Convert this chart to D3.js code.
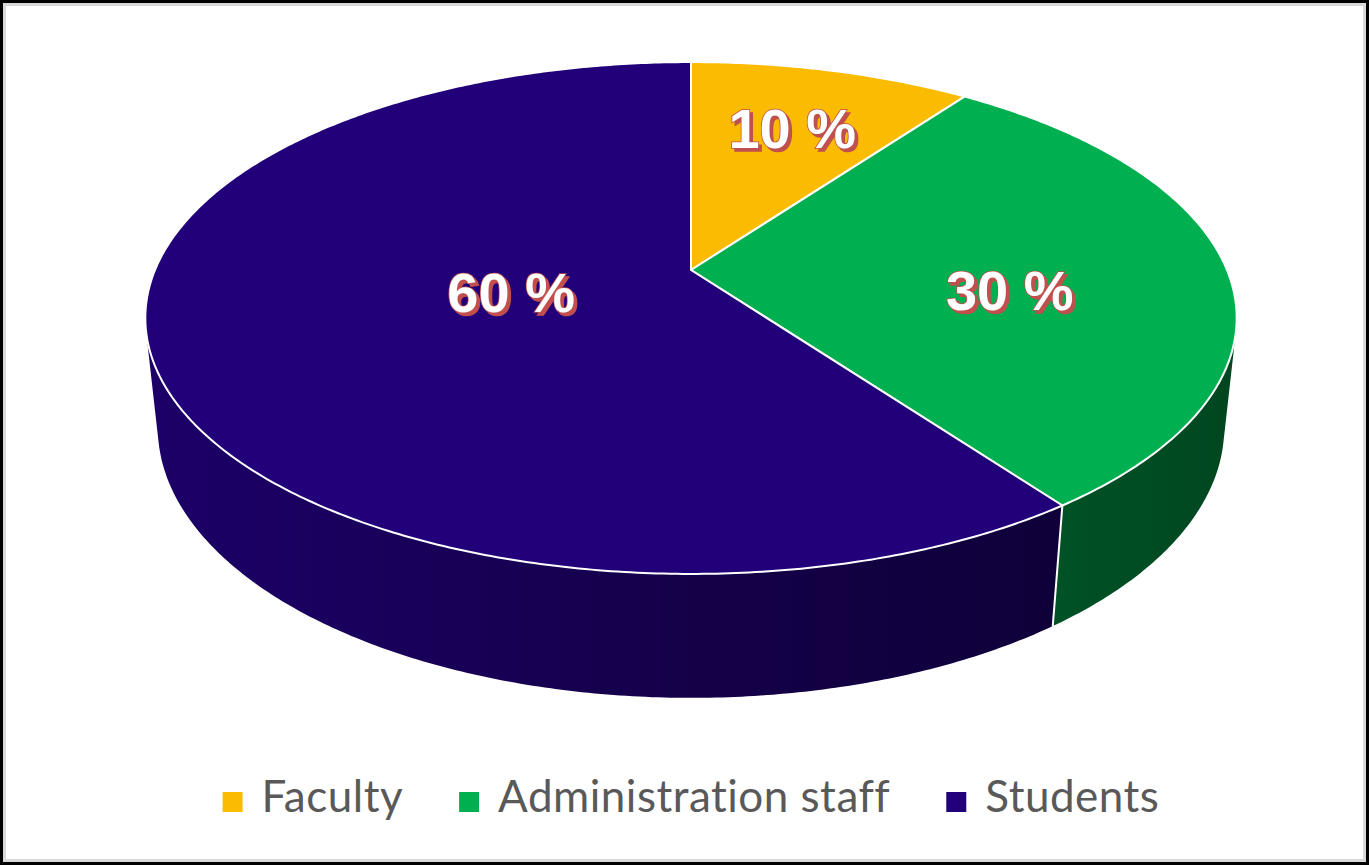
<!DOCTYPE html>
<html>
<head>
	<meta charset="utf-8">
	<title>3D pie</title>
	<style>
		body { margin: 0; background: #fff; }
		svg { display: block; }
	</style>
</head>
<body>
	<svg width="1369" height="865"></svg>
<script src="https://cdn.jsdelivr.net/npm/d3@7"></script>
<script>
	// data
	const categories = ["Faculty", "Administration staff", "Students"]
	const shares = [10, 30, 60]
	const colors = ["#FABB00", "#00AF50", "#21007A"]

	const svg = d3.select("svg")
	const W = 1369, H = 865

	// frame
	svg.append("rect").attr("x", 1.5).attr("y", 1.5).attr("width", W - 3).attr("height", H - 3)
		.attr("fill", "#fff").attr("stroke", "#000").attr("stroke-width", 3)
	svg.append("rect").attr("x", 4.5).attr("y", 4.5).attr("width", W - 9).attr("height", H - 9)
		.attr("fill", "none").attr("stroke", "#d9d9d9").attr("stroke-width", 3)

	// simple perspective camera looking down onto the pie
	const cx = 691, cy = 270, F = 2537.6, D = 4.734
	const sn = 0.4607, cs = 0.8876, thick = 0.232
	function proj(a, r, h) {
		let X = r * Math.sin(a), Z = -r * Math.cos(a), Y = -h * thick
		let vy = Y - D * sn, vz = Z - D * cs
		let depth = -(vy * sn + vz * cs)
		let sy = vy * cs - vz * sn
		return [cx + F * X / depth, cy - F * sy / depth]
	}

	const arcs = d3.pie().sort(null).value(d => d)(shares)
	// side of cylinder faces the camera between these angles
	const lim = Math.acos(-1 / (D * cs))
	const visA = lim, visB = 2 * Math.PI - lim

	function arcPts(a0, a1, r, h) {
		let n = Math.max(2, Math.ceil((a1 - a0) / 0.01))
		return d3.range(n + 1).map(i => proj(a0 + (a1 - a0) * i / n, r, h))
	}

	const defs = svg.append("defs")
	const x0 = proj(visB, 1, 0)[0], x1 = proj(visA, 1, 0)[0]
	arcs.forEach((d, i) => {
		let c = d3.rgb(colors[i])
		let g = defs.append("linearGradient").attr("id", "side" + i)
			.attr("gradientUnits", "userSpaceOnUse")
			.attr("x1", x0).attr("x2", x1).attr("y1", 0).attr("y2", 0)
		;[[0, 0.85], [0.5, 0.6], [1, 0.4]].forEach(s => {
			g.append("stop").attr("offset", s[0])
				.attr("stop-color", d3.rgb(c.r * s[1], c.g * s[1], c.b * s[1]))
		})
	})
	// label shadow
	let flt = defs.append("filter").attr("id", "shadow")
		.attr("x", "-10%").attr("y", "-10%").attr("width", "120%").attr("height", "130%")
	flt.append("feOffset").attr("in", "SourceAlpha").attr("dx", 3).attr("dy", 3).attr("result", "off")
	flt.append("feFlood").attr("flood-color", "#C0504D").attr("result", "col")
	flt.append("feComposite").attr("in", "col").attr("in2", "off").attr("operator", "in").attr("result", "sh")
	let fm = flt.append("feMerge")
	fm.append("feMergeNode").attr("in", "sh")
	fm.append("feMergeNode").attr("in", "SourceGraphic")

	const line = d3.line()
	const pie = svg.append("g")

	// side walls
	arcs.forEach((d, i) => {
		let a0 = Math.max(d.startAngle, visA), a1 = Math.min(d.endAngle, visB)
		if (a1 <= a0) return
		let pts = arcPts(a0, a1, 1, 0).concat(arcPts(a0, a1, 1, 1).reverse())
		pie.append("path").attr("d", line(pts) + "Z")
			.attr("fill", `url(#side${i})`)
	})
	// seams between slices on the visible side
	arcs.forEach(d => {
		let a = d.startAngle
		if (a > visA && a < visB) {
			pie.append("path").attr("d", line([proj(a, 1, 0), proj(a, 1, 1)]))
				.attr("stroke", "#fff").attr("stroke-width", 2)
		}
	})

	// top faces
	arcs.forEach((d, i) => {
		let pts = [proj(0, 0, 0)].concat(arcPts(d.startAngle, d.endAngle, 1, 0))
		pie.append("path").attr("d", line(pts) + "Z")
			.attr("fill", colors[i]).attr("stroke", "#fff").attr("stroke-width", 2)
			.attr("stroke-linejoin", "round")
	})

	// data labels near the (projected) centroid of each sector
	const nudge = [[4, -4], [12, 20], [-5, -4]]
	const lbl = svg.append("g")
		.attr("font-family", "'Liberation Sans', Arial, sans-serif")
		.attr("font-weight", "bold").attr("font-size", 56)
		.attr("text-anchor", "middle")
	arcs.forEach((d, i) => {
		let half = (d.endAngle - d.startAngle) / 2
		let r = 2 * Math.sin(half) / (3 * half)
		let p = proj((d.startAngle + d.endAngle) / 2, r, 0)
		lbl.append("text").attr("x", p[0] + nudge[i][0]).attr("y", p[1] + nudge[i][1]).attr("dy", "0.36em")
			.attr("fill", "#fff").attr("stroke", "#C0504D").attr("stroke-width", 1.6)
			.attr("paint-order", "stroke").attr("filter", "url(#shadow)")
			.text(shares[i] + " %")
	})

	// legend
	const leg = svg.append("g")
	const items = categories.map((c, i) => {
		let g = leg.append("g")
		g.append("rect").attr("width", 20).attr("height", 20).attr("y", -20)
			.attr("fill", colors[i])
		let t = g.append("text").attr("x", 39).attr("font-family", "Lato, 'Open Sans', sans-serif")
			.attr("font-size", 44).attr("letter-spacing", 0.5).attr("fill", "#595959").text(c)
		return { g: g, w: 39 + t.node().getComputedTextLength() }
	})
	const gap = 56
	const total = d3.sum(items, d => d.w) + gap * (items.length - 1)
	let lx = 691 - total / 2
	items.forEach(it => {
		it.g.attr("transform", `translate(${lx},812)`)
		lx += it.w + gap
	})
</script>
</body>
</html>
